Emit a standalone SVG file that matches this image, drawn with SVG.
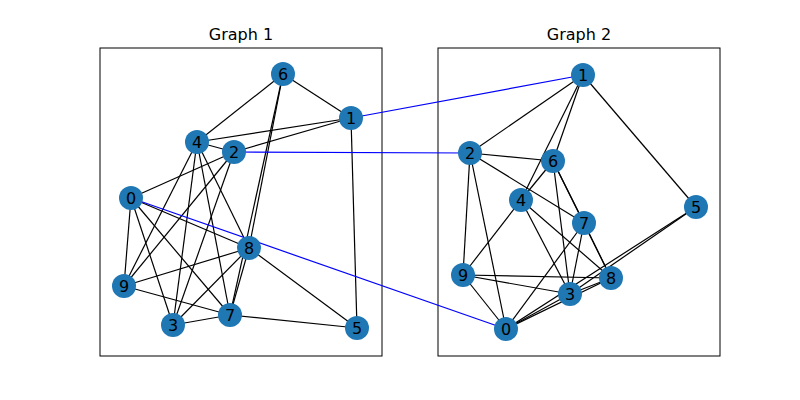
<svg xmlns="http://www.w3.org/2000/svg" width="800" height="400" viewBox="0 0 800 400">
<style>
.e{stroke:#000;stroke-width:1.2}
.b{stroke:#0000ff;stroke-width:1.2}
.n circle{fill:#1f77b4}
.n text{font-family:"DejaVu Sans",sans-serif;font-size:16px;text-anchor:middle;dominant-baseline:central;fill:#000}
.t{font-family:"DejaVu Sans",sans-serif;font-size:16px;text-anchor:middle}
.f{fill:none;stroke:#000;stroke-width:1}
</style>
<rect width="800" height="400" fill="#fff"/>
<rect class="f" x="100" y="48" width="282" height="308"/>
<rect class="f" x="438" y="48" width="282" height="308"/>
<text class="t" x="241" y="40">Graph 1</text>
<text class="t" x="579" y="40">Graph 2</text>
<g id="connectors">
<line class="e" x1="283" y1="74" x2="197" y2="142"/>
<line class="e" x1="283" y1="74" x2="351" y2="118"/>
<line class="e" x1="283" y1="74" x2="249" y2="248"/>
<line class="e" x1="283" y1="74" x2="230" y2="315"/>
<line class="e" x1="351" y1="118" x2="197" y2="142"/>
<line class="e" x1="351" y1="118" x2="234" y2="152"/>
<line class="e" x1="351" y1="118" x2="357" y2="328"/>
<line class="e" x1="197" y1="142" x2="234" y2="152"/>
<line class="e" x1="197" y1="142" x2="124" y2="286"/>
<line class="e" x1="197" y1="142" x2="173" y2="325"/>
<line class="e" x1="197" y1="142" x2="230" y2="315"/>
<line class="e" x1="197" y1="142" x2="249" y2="248"/>
<line class="e" x1="234" y1="152" x2="131" y2="198"/>
<line class="e" x1="234" y1="152" x2="124" y2="286"/>
<line class="e" x1="234" y1="152" x2="173" y2="325"/>
<line class="e" x1="131" y1="198" x2="124" y2="286"/>
<line class="e" x1="131" y1="198" x2="173" y2="325"/>
<line class="e" x1="131" y1="198" x2="230" y2="315"/>
<line class="e" x1="131" y1="198" x2="249" y2="248"/>
<line class="e" x1="124" y1="286" x2="249" y2="248"/>
<line class="e" x1="124" y1="286" x2="230" y2="315"/>
<line class="e" x1="173" y1="325" x2="230" y2="315"/>
<line class="e" x1="173" y1="325" x2="249" y2="248"/>
<line class="e" x1="249" y1="248" x2="357" y2="328"/>
<line class="e" x1="249" y1="248" x2="230" y2="315"/>
<line class="e" x1="230" y1="315" x2="357" y2="328"/>

<line class="e" x1="583" y1="75" x2="470" y2="153"/>
<line class="e" x1="583" y1="75" x2="521" y2="200"/>
<line class="e" x1="583" y1="75" x2="553" y2="161"/>
<line class="e" x1="583" y1="75" x2="696" y2="207"/>
<line class="e" x1="470" y1="153" x2="553" y2="161"/>
<line class="e" x1="470" y1="153" x2="584" y2="223"/>
<line class="e" x1="470" y1="153" x2="463" y2="275"/>
<line class="e" x1="470" y1="153" x2="506" y2="329"/>
<line class="e" x1="553" y1="161" x2="521" y2="200"/>
<line class="e" x1="553" y1="161" x2="570" y2="294"/>
<line class="e" x1="553" y1="161" x2="584" y2="223"/>
<line class="e" x1="553" y1="161" x2="611" y2="278"/>
<line class="e" x1="521" y1="200" x2="463" y2="275"/>
<line class="e" x1="521" y1="200" x2="570" y2="294"/>
<line class="e" x1="521" y1="200" x2="611" y2="278"/>
<line class="e" x1="584" y1="223" x2="570" y2="294"/>
<line class="e" x1="584" y1="223" x2="506" y2="329"/>
<line class="e" x1="584" y1="223" x2="611" y2="278"/>
<line class="e" x1="463" y1="275" x2="611" y2="278"/>
<line class="e" x1="463" y1="275" x2="570" y2="294"/>
<line class="e" x1="463" y1="275" x2="506" y2="329"/>
<line class="e" x1="506" y1="329" x2="570" y2="294"/>
<line class="e" x1="506" y1="329" x2="611" y2="278"/>
<line class="e" x1="570" y1="294" x2="611" y2="278"/>
<line class="e" x1="696" y1="207" x2="570" y2="294"/>
<line class="e" x1="696" y1="207" x2="506" y2="329"/>

<line class="b" x1="351" y1="118" x2="583" y2="75"/>
<line class="b" x1="234" y1="152" x2="470" y2="153"/>
<line class="b" x1="131" y1="198" x2="506" y2="329"/>
</g>
<g id="g1n0" class="n"><circle cx="131" cy="198" r="12"/><text x="131" y="198">0</text></g>
<g id="g1n1" class="n"><circle cx="351" cy="118" r="12"/><text x="351" y="118">1</text></g>
<g id="g1n2" class="n"><circle cx="234" cy="152" r="12"/><text x="234" y="152">2</text></g>
<g id="g1n3" class="n"><circle cx="173" cy="325" r="12"/><text x="173" y="325">3</text></g>
<g id="g1n4" class="n"><circle cx="197" cy="142" r="12"/><text x="197" y="142">4</text></g>
<g id="g1n5" class="n"><circle cx="357" cy="328" r="12"/><text x="357" y="328">5</text></g>
<g id="g1n6" class="n"><circle cx="283" cy="74" r="12"/><text x="283" y="74">6</text></g>
<g id="g1n7" class="n"><circle cx="230" cy="315" r="12"/><text x="230" y="315">7</text></g>
<g id="g1n8" class="n"><circle cx="249" cy="248" r="12"/><text x="249" y="248">8</text></g>
<g id="g1n9" class="n"><circle cx="124" cy="286" r="12"/><text x="124" y="286">9</text></g>
<g id="g2n0" class="n"><circle cx="506" cy="329" r="12"/><text x="506" y="329">0</text></g>
<g id="g2n1" class="n"><circle cx="583" cy="75" r="12"/><text x="583" y="75">1</text></g>
<g id="g2n2" class="n"><circle cx="470" cy="153" r="12"/><text x="470" y="153">2</text></g>
<g id="g2n3" class="n"><circle cx="570" cy="294" r="12"/><text x="570" y="294">3</text></g>
<g id="g2n4" class="n"><circle cx="521" cy="200" r="12"/><text x="521" y="200">4</text></g>
<g id="g2n5" class="n"><circle cx="696" cy="207" r="12"/><text x="696" y="207">5</text></g>
<g id="g2n6" class="n"><circle cx="553" cy="161" r="12"/><text x="553" y="161">6</text></g>
<g id="g2n7" class="n"><circle cx="584" cy="223" r="12"/><text x="584" y="223">7</text></g>
<g id="g2n8" class="n"><circle cx="611" cy="278" r="12"/><text x="611" y="278">8</text></g>
<g id="g2n9" class="n"><circle cx="463" cy="275" r="12"/><text x="463" y="275">9</text></g>
</svg>
